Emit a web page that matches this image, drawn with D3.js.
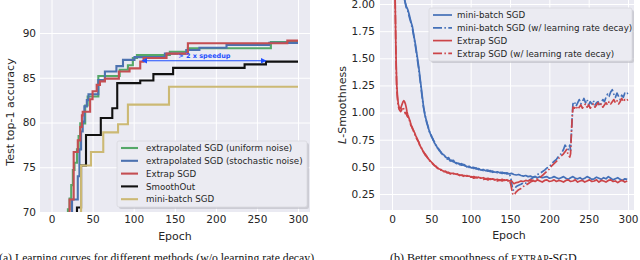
<!DOCTYPE html>
<html><head><meta charset="utf-8">
<script src="https://cdn.jsdelivr.net/npm/d3@7"></script>
<style>
body{margin:0;background:#fff;}
svg{display:block;}
.tick text{font-family:"DejaVu Sans";fill:#262626;}
</style></head>
<body><svg id="c" width="640" height="260"></svg>
<script>
// ---------- Panel (a) data: [epoch, test top-1 accuracy] step points ----------
const xTicks = [0, 50, 100, 150, 200, 250, 300];
const accTicks = [70, 75, 80, 85, 90];
const legendA = ["extrapolated SGD (uniform noise)", "extrapolated SGD (stochastic noise)", "Extrap SGD", "SmoothOut", "mini-batch SGD"];
const uniformNoise = [[19,66],[20,70.3],[22,71.5],[24,73],[26,74.7],[28,75.5],[31,77],[33,78.5],[35,79.9],[41,81.9],[44,82.9],[57,85.2],[83,85.9],[93,86.4],[99,87.2],[104,87.55],[144,87.9],[166,88.3],[267,89.0],[300,89.0]];
const stochasticNoise = [[24,66],[25,71.4],[31,71.4],[32,74],[34,77],[36,79],[38,80.1],[40,81.8],[43,82.5],[45,83.15],[57,84.75],[65,85.7],[79,86.3],[87,87.0],[101,87.3],[138,87.7],[164,88.1],[180,88.35],[213,88.66],[265,88.9],[300,88.9]];
const extrapSGD = [[21,66],[22,71.4],[27,76.7],[32,78],[35,79.5],[37,80.8],[38,81.2],[47,82.6],[50,83.5],[55,84.2],[59,84.6],[65,84.9],[82,85.7],[95,86.05],[108,86.8],[112,87.2],[140,87.7],[166,88.85],[287,89.15],[300,89.15]];
const smoothOut = [[30,66],[31,70.5],[33,70.5],[36,75.2],[42,78.6],[60,80.5],[74,81.6],[80,84.4],[108,84.7],[124,85.4],[148,86.1],[235,86.5],[261,86.8],[300,86.8]];
const miniBatchA = [[34,66],[36,75.2],[48,76.7],[63,78.9],[81,79.8],[93,82.0],[143,84.0],[300,84.0]];
const speedupArrow = [[116, 86.9], [261, 86.9]];
const speedupLabel = "> 2 x speedup";

// ---------- Panel (b) data: [epoch, L-smoothness] ----------
const smoothTicks = [0.25, 0.50, 0.75, 1.00, 1.25, 1.50, 1.75, 2.00];
const legendB = ["mini-batch SGD", "mini-batch SGD (w/ learning rate decay)", "Extrap SGD", "Extrap SGD (w/ learning rate decay)"];
const mbSolid = [[16,2.04],[18,1.98],[20,1.95],[22,1.90],[24,1.84],[26,1.79],[28,1.70],[30,1.62],[32,1.52],[34,1.42],[36,1.30],[38,1.18],[40,1.06],[42,0.97],[44,0.92],[46,0.86],[48,0.82],[50,0.78],[52,0.76],[54,0.72],[56,0.70],[58,0.67],[60,0.66],[62,0.63],[64,0.62],[66,0.61],[68,0.59],[70,0.58],[72,0.585],[74,0.56],[76,0.555],[78,0.56],[80,0.54],[82,0.53],[84,0.535],[86,0.52],[88,0.53],[90,0.515],[92,0.52],[95,0.50],[98,0.505],[101,0.49],[104,0.495],[107,0.48],[110,0.485],[113,0.47],[116,0.475],[119,0.465],[122,0.47],[125,0.455],[128,0.46],[131,0.45],[134,0.455],[137,0.445],[140,0.45],[143,0.44],[146,0.445],[149,0.435],[152,0.44],[155,0.43],[158,0.425],[161,0.43],[164,0.42],[167,0.415],[170,0.42],[173,0.41],[176,0.415],[179,0.405],[182,0.41],[185,0.40],[188,0.41],[191,0.40],[194,0.405],[197,0.41],[200,0.395],[203,0.40],[206,0.41],[209,0.40],[212,0.39],[215,0.40],[218,0.41],[221,0.395],[224,0.385],[227,0.40],[230,0.41],[233,0.395],[236,0.39],[239,0.40],[242,0.385],[245,0.395],[248,0.41],[251,0.40],[254,0.385],[257,0.39],[260,0.405],[263,0.395],[266,0.385],[269,0.40],[272,0.39],[275,0.41],[278,0.395],[281,0.38],[284,0.39],[287,0.40],[290,0.385],[293,0.375],[296,0.39],[299,0.385]];
const mbDecay = [[16,2.04],[18,1.97],[20,1.94],[22,1.88],[24,1.83],[26,1.77],[28,1.69],[30,1.60],[32,1.50],[34,1.40],[36,1.28],[38,1.16],[40,1.05],[42,0.98],[44,0.91],[46,0.87],[48,0.81],[50,0.79],[52,0.75],[54,0.73],[56,0.69],[58,0.68],[60,0.65],[62,0.64],[64,0.615],[66,0.60],[68,0.595],[70,0.57],[72,0.575],[74,0.555],[76,0.56],[78,0.545],[80,0.55],[82,0.535],[84,0.525],[86,0.53],[88,0.515],[90,0.525],[92,0.51],[95,0.505],[98,0.495],[101,0.50],[104,0.485],[107,0.49],[110,0.475],[113,0.48],[116,0.465],[119,0.47],[122,0.46],[125,0.465],[128,0.45],[131,0.455],[134,0.445],[137,0.45],[140,0.44],[143,0.445],[146,0.435],[149,0.44],[151,0.40],[153,0.31],[154,0.285],[156,0.30],[158,0.32],[161,0.33],[164,0.34],[167,0.355],[170,0.35],[173,0.37],[176,0.385],[179,0.40],[182,0.41],[185,0.43],[188,0.44],[191,0.455],[194,0.47],[197,0.49],[200,0.50],[203,0.53],[206,0.55],[209,0.57],[212,0.60],[215,0.62],[218,0.66],[220,0.70],[222,0.68],[224,0.66],[226,0.70],[227,0.65],[228,0.80],[229,0.95],[230,1.08],[232,1.10],[234,1.06],[236,1.09],[238,1.12],[240,1.08],[242,1.10],[244,1.13],[246,1.09],[248,1.12],[250,1.07],[252,1.10],[254,1.08],[256,1.11],[258,1.07],[260,1.09],[262,1.10],[264,1.06],[266,1.09],[268,1.12],[270,1.10],[272,1.14],[274,1.17],[276,1.15],[278,1.19],[280,1.21],[282,1.17],[284,1.14],[286,1.18],[288,1.15],[290,1.12],[292,1.16],[294,1.14],[296,1.18],[298,1.17],[300,1.18]];
const exSolid = [[4,2.04],[4.5,1.80],[5,1.56],[5.5,1.40],[6,1.26],[7,1.15],[8,1.08],[9,1.05],[10,1.04],[11,1.035],[12,1.06],[13,1.08],[14,1.10],[15,1.11],[16,1.10],[17,1.08],[18,1.05],[19,1.01],[20,0.98],[21,0.96],[22,0.94],[23,0.92],[24,0.89],[25,0.875],[26,0.86],[27,0.84],[28,0.825],[29,0.81],[30,0.79],[32,0.76],[34,0.725],[36,0.69],[38,0.665],[40,0.635],[42,0.62],[44,0.60],[46,0.575],[48,0.56],[50,0.545],[52,0.53],[54,0.515],[56,0.50],[58,0.49],[60,0.48],[62,0.475],[64,0.465],[66,0.46],[68,0.455],[70,0.45],[72,0.445],[74,0.44],[77,0.44],[80,0.435],[83,0.43],[86,0.425],[89,0.42],[92,0.42],[95,0.415],[98,0.415],[101,0.405],[104,0.41],[107,0.40],[110,0.405],[113,0.395],[116,0.40],[119,0.39],[122,0.395],[125,0.385],[128,0.39],[131,0.38],[134,0.385],[137,0.375],[140,0.385],[143,0.375],[146,0.38],[149,0.37],[152,0.37],[155,0.345],[158,0.355],[161,0.36],[164,0.37],[167,0.365],[170,0.375],[173,0.37],[176,0.38],[179,0.375],[182,0.365],[185,0.38],[188,0.37],[191,0.36],[194,0.375],[197,0.38],[200,0.365],[203,0.37],[206,0.38],[209,0.365],[212,0.375],[215,0.37],[218,0.36],[221,0.375],[224,0.38],[227,0.365],[230,0.37],[233,0.38],[236,0.36],[239,0.37],[242,0.375],[245,0.36],[248,0.37],[251,0.38],[254,0.365],[257,0.37],[260,0.38],[263,0.36],[266,0.375],[269,0.37],[272,0.36],[275,0.375],[278,0.38],[281,0.365],[284,0.37],[287,0.355],[290,0.37],[293,0.375],[296,0.36],[299,0.37]];
const exDecay = [[4,2.04],[4.5,1.78],[5,1.52],[5.5,1.36],[6,1.22],[7,1.12],[8,1.06],[9,1.03],[10,1.02],[11,1.01],[12,1.02],[13,1.04],[14,1.05],[15,1.03],[16,1.01],[17,0.99],[18,1.00],[19,0.97],[20,0.96],[21,0.94],[22,0.93],[23,0.91],[24,0.88],[25,0.87],[26,0.85],[27,0.84],[28,0.81],[29,0.80],[30,0.78],[32,0.75],[34,0.73],[36,0.68],[38,0.67],[40,0.64],[42,0.61],[44,0.595],[46,0.575],[48,0.555],[50,0.54],[52,0.525],[54,0.51],[56,0.505],[58,0.485],[60,0.485],[62,0.47],[64,0.47],[66,0.455],[68,0.46],[70,0.445],[72,0.45],[74,0.435],[77,0.445],[80,0.43],[83,0.435],[86,0.42],[89,0.425],[92,0.41],[95,0.42],[98,0.405],[101,0.41],[104,0.395],[107,0.405],[110,0.39],[113,0.40],[116,0.385],[119,0.39],[122,0.38],[125,0.39],[128,0.375],[131,0.385],[134,0.37],[137,0.38],[140,0.37],[143,0.38],[146,0.37],[149,0.375],[151,0.34],[153,0.26],[154,0.24],[156,0.25],[158,0.27],[161,0.29],[164,0.30],[167,0.32],[170,0.33],[173,0.345],[176,0.36],[179,0.37],[182,0.38],[185,0.39],[188,0.40],[191,0.42],[194,0.44],[197,0.46],[200,0.48],[203,0.51],[206,0.53],[209,0.55],[212,0.58],[215,0.60],[218,0.62],[220,0.64],[222,0.66],[224,0.61],[226,0.59],[227,0.62],[228,0.80],[229,0.95],[230,1.05],[232,1.04],[234,1.06],[236,1.03],[238,1.05],[240,1.07],[242,1.04],[244,1.06],[246,1.08],[248,1.05],[250,1.07],[252,1.04],[254,1.06],[256,1.08],[258,1.05],[260,1.07],[262,1.09],[264,1.06],[266,1.08],[268,1.05],[270,1.07],[272,1.09],[274,1.07],[276,1.10],[278,1.08],[280,1.10],[282,1.12],[284,1.09],[286,1.11],[288,1.08],[290,1.10],[292,1.13],[294,1.10],[296,1.12],[298,1.11],[300,1.12]];

const captionA = "(a) Learning curves for different methods (w/o learning rate decay).";
const captionB = ["(b) Better smoothness of ", "EXTRAP", "-SGD."];

// ---------- drawing ----------
const svg = d3.select("#c");
const BG = "#EAEAF2", TXT = "#262626";
const colA = ["#55A868", "#4C72B0", "#C44E52", "#111111", "#CCB974"];
const BLUE = "#4470B8", RED = "#CC4448";

function panel(box, xs, ys, xt, yt, yfmt, pad) {
  const g = svg.append("g");
  const id = "clip" + box.x0;
  svg.append("clipPath").attr("id", id).append("rect")
    .attr("x", box.x0).attr("y", box.y0).attr("width", box.x1 - box.x0).attr("height", box.y1 - box.y0);
  g.append("rect").attr("x", box.x0).attr("y", box.y0).attr("width", box.x1 - box.x0)
    .attr("height", box.y1 - box.y0).attr("fill", BG);
  const gx = g.append("g").attr("transform", `translate(0,${box.y1})`)
    .call(d3.axisBottom(xs).tickValues(xt).tickSize(-(box.y1 - box.y0)).tickPadding(pad.x));
  const gy = g.append("g").attr("transform", `translate(${box.x0},0)`)
    .call(d3.axisLeft(ys).tickValues(yt).tickFormat(yfmt).tickSize(-(box.x1 - box.x0)).tickPadding(pad.y));
  [gx, gy].forEach(a => {
    a.select(".domain").remove();
    a.selectAll("line").attr("stroke", "#fff").attr("stroke-width", 1);
    a.selectAll("text").attr("font-size", 10.5).attr("fill", TXT);
  });
  const plot = g.append("g").attr("clip-path", `url(#${id})`);
  return plot;
}

// Panel (a)
const boxA = {x0: 40, x1: 310, y0: 0, y1: 212};
const xA = d3.scaleLinear().domain([0, 300]).range([51.5, 298]);
const yA = d3.scaleLinear().domain([70, 90]).range([212, 33]);
const plotA = panel(boxA, xA, yA, xTicks, accTicks, d3.format("d"), {x: 4, y: 4});
const stepLine = d3.line().x(d => xA(d[0])).y(d => yA(d[1])).curve(d3.curveStepAfter);
[uniformNoise, stochasticNoise, extrapSGD, smoothOut, miniBatchA].forEach((s, i) => {
  plotA.append("path").attr("d", stepLine(s)).attr("fill", "none")
    .attr("stroke", colA[i]).attr("stroke-width", 2.1);
});
// speedup arrow
const ARW = "#1f4fff";
const defs = svg.append("defs");
["s", "e"].forEach(k => {
  defs.append("marker").attr("id", "ar" + k).attr("viewBox", "0 0 10 10")
    .attr("refX", k === "e" ? 9 : 1).attr("refY", 5).attr("markerWidth", 6).attr("markerHeight", 6)
    .attr("orient", "auto-start-reverse").attr("markerUnits", "userSpaceOnUse")
    .append("path").attr("d", "M0,0 L10,5 L0,10 z").attr("fill", ARW);
});
plotA.append("line")
  .attr("x1", xA(speedupArrow[0][0])).attr("x2", xA(speedupArrow[1][0]))
  .attr("y1", yA(speedupArrow[0][1])).attr("y2", yA(speedupArrow[1][1]))
  .attr("stroke", ARW).attr("stroke-width", 1.2)
  .attr("marker-start", "url(#ars)").attr("marker-end", "url(#are)");
plotA.append("text").attr("x", xA((speedupArrow[0][0] + speedupArrow[1][0]) / 2) - 2)
  .attr("y", yA(speedupArrow[0][1]) - 3).attr("text-anchor", "middle")
  .attr("font-family", "DejaVu Sans").attr("font-weight", "bold").attr("font-size", 6.5)
  .attr("fill", ARW).text(speedupLabel);

// legend (a)
const lgA = svg.append("g");
lgA.append("rect").attr("x", 119).attr("y", 143).attr("width", 190).attr("height", 66)
  .attr("rx", 2).attr("fill", "#b8b8c0").attr("opacity", 0.6);
lgA.append("rect").attr("x", 117).attr("y", 141).attr("width", 190).attr("height", 66)
  .attr("rx", 2).attr("fill", "#EBEBF2").attr("stroke", "#d8d8de").attr("stroke-width", 0.8);
legendA.forEach((t, i) => {
  const y = 148 + i * 12.8;
  lgA.append("line").attr("x1", 121).attr("x2", 138).attr("y1", y).attr("y2", y)
    .attr("stroke", colA[i]).attr("stroke-width", 2.1);
  lgA.append("text").attr("x", 146).attr("y", y + 3.2).attr("font-family", "DejaVu Sans")
    .attr("font-size", 8.7).attr("fill", TXT).text(t);
});

// Axis labels (a)
svg.append("text").attr("x", 175).attr("y", 240).attr("text-anchor", "middle")
  .attr("font-family", "DejaVu Sans").attr("font-size", 11).attr("fill", TXT).text("Epoch");
svg.append("text").attr("transform", "translate(14,112) rotate(-90)").attr("text-anchor", "middle")
  .attr("font-family", "DejaVu Sans").attr("font-size", 11).attr("fill", TXT).text("Test top-1 accuracy");

// Panel (b)
const boxB = {x0: 380, x1: 634, y0: 0, y1: 210};
const xB = d3.scaleLinear().domain([0, 300]).range([392, 628]);
const yB = d3.scaleLinear().domain([0.25, 2.0]).range([194, 4]);
const plotB = panel(boxB, xB, yB, xTicks, smoothTicks, d3.format(".2f"), {x: 6, y: 5});
const ln = d3.line().x(d => xB(d[0])).y(d => yB(d[1]));
const seriesB = [
  {d: mbSolid, c: BLUE, dash: null},
  {d: mbDecay, c: BLUE, dash: "9,2.4,1.5,2.4"},
  {d: exSolid, c: RED, dash: null},
  {d: exDecay, c: RED, dash: "9,2.4,1.5,2.4"}
];
[seriesB[1], seriesB[0], seriesB[3], seriesB[2]].forEach(s => {
  plotB.append("path").attr("d", ln(s.d)).attr("fill", "none").attr("stroke", s.c)
    .attr("stroke-width", 1.7).attr("stroke-linejoin", "round")
    .attr("stroke-dasharray", s.dash);
});
// legend (b)
const lgB = svg.append("g");
lgB.append("rect").attr("x", 431).attr("y", 10).attr("width", 203).attr("height", 53)
  .attr("rx", 2).attr("fill", "#b8b8c0").attr("opacity", 0.6);
lgB.append("rect").attr("x", 429).attr("y", 8).attr("width", 203).attr("height", 53)
  .attr("rx", 2).attr("fill", "#EBEBF2").attr("stroke", "#d8d8de").attr("stroke-width", 0.8);
legendB.forEach((t, i) => {
  const y = 15 + i * 12.8;
  lgB.append("line").attr("x1", 433).attr("x2", 452).attr("y1", y).attr("y2", y)
    .attr("stroke", seriesB[i].c).attr("stroke-width", 1.7).attr("stroke-dasharray", seriesB[i].dash);
  lgB.append("text").attr("x", 457).attr("y", y + 3.2).attr("font-family", "DejaVu Sans")
    .attr("font-size", 8.7).attr("fill", TXT).text(t);
});
svg.append("text").attr("x", 509).attr("y", 239).attr("text-anchor", "middle")
  .attr("font-family", "DejaVu Sans").attr("font-size", 11).attr("fill", TXT).text("Epoch");
const yl = svg.append("text").attr("transform", "translate(346,105) rotate(-90)").attr("text-anchor", "middle")
  .attr("font-family", "DejaVu Sans").attr("font-size", 11).attr("fill", TXT);
yl.append("tspan").attr("font-style", "italic").text("L");
yl.append("tspan").text("-Smoothness");

// captions
svg.append("text").attr("x", -1).attr("y", 262).attr("font-family", "Liberation Serif")
  .attr("font-size", 12).attr("fill", "#111").attr("textLength", 318).attr("lengthAdjust", "spacingAndGlyphs")
  .text(captionA);
const cb = svg.append("text").attr("x", 390).attr("y", 262).attr("font-family", "Liberation Serif")
  .attr("font-size", 12).attr("fill", "#111");
cb.append("tspan").text(captionB[0]);
cb.append("tspan").attr("font-size", 9.6).text(captionB[1]);
cb.append("tspan").text(captionB[2]);
</script></body></html>
